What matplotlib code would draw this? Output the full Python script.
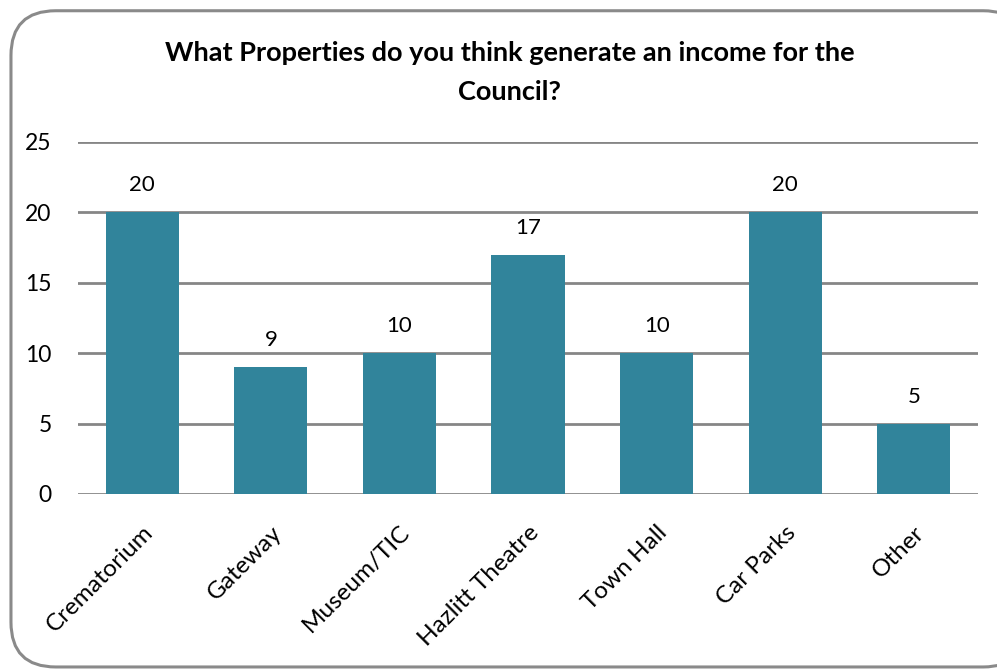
import matplotlib.pyplot as plt
from matplotlib.patches import FancyBboxPatch

# Survey responses
categories = ['Crematorium', 'Gateway', 'Museum/TIC', 'Hazlitt Theatre',
              'Town Hall', 'Car Parks', 'Other']
counts = [20, 9, 10, 17, 10, 20, 5]
y_ticks = [0, 5, 10, 15, 20, 25]

bar_color = '#31849B'
grid_color = '#868686'

plt.rcParams['font.family'] = ['Lato', 'DejaVu Sans']

fig = plt.figure(figsize=(9.97, 6.71), dpi=100)

# Rounded chart frame
frame = FancyBboxPatch((0.011, 0.006), 1.02, 0.978,
                       boxstyle='round,pad=0,rounding_size=0.045',
                       transform=fig.transFigure, facecolor='white',
                       edgecolor='#8a8a8a', linewidth=2.2, zorder=-5,
                       mutation_aspect=997 / 671)
fig.patches.append(frame)

ax = fig.add_axes([0.0782, 0.2638, 0.9028, 0.5246])
ax.set_facecolor('none')
ax.set_zorder(2)

x = range(len(categories))
bars = ax.bar(x, counts, width=0.57, color=bar_color, zorder=3)

for xi, v in zip(x, counts):
    ax.text(xi, v + 1.2, str(v), ha='center', va='bottom', fontsize=16)

ax.set_xlim(-0.5, len(categories) - 0.5)
ax.set_ylim(0, 25)
ax.set_yticks(y_ticks)
ax.yaxis.grid(True, color=grid_color, linewidth=2, zorder=1)
ax.set_axisbelow(True)
ax.tick_params(axis='both', length=0)
ax.tick_params(axis='y', pad=19, labelsize=16.5)
ax.set_xticks(list(x))
ax.set_xticklabels(categories, rotation=45, ha='right',
                   rotation_mode='anchor')
ax.tick_params(axis='x', pad=20, labelsize=17.5)
for s in ax.spines.values():
    s.set_visible(False)

fig.text(0.511, 0.892, 'What Properties do you think generate an income for the\nCouncil?',
         ha='center', va='center', fontsize=19.5, fontweight='bold',
         linespacing=1.75)

fig.savefig('out.png', dpi=100)
